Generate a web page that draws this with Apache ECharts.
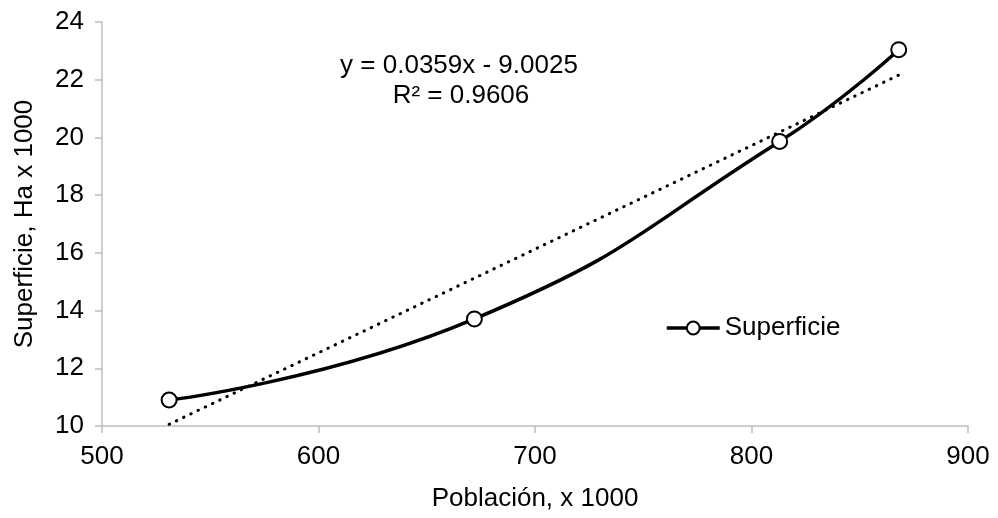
<!DOCTYPE html>
<html>
<head>
<meta charset="utf-8">
<script src="https://cdn.jsdelivr.net/npm/echarts@6/dist/echarts.min.js"></script>
<style>
    html, body { margin: 0; padding: 0; background: #fff; }
    #chart { width: 998px; height: 518px; }
</style>
</head>
<body>
<div id="chart"></div>
<script>
    // valores
    var poblacion = [531, 672, 813, 868];
    var superficie = [10.90, 13.71, 19.86, 23.04];
    // extremos de la linea de tendencia
    var tendenciaX = [531, 868];
    var tendenciaY = [10.06, 22.16];
    var ecuacion = ['y = 0.0359x - 9.0025', 'R² = 0.9606'];

    var font = 'Liberation Sans, Arial, sans-serif';
    var fontSize = 26;
    var axisGray = '#bfbfbf';

    var chart = echarts.init(document.getElementById('chart'));
    var option = {
        animation: false,
        grid: {
            left: 102,
            right: 30,
            top: 22,
            bottom: 92
        },
        legend: {
            data: ['Superficie'],
            left: 660,
            top: 310,
            itemWidth: 53,
            itemHeight: 16,
            itemGap: 6,
            lineStyle: { width: 3.5, color: '#000' },
            itemStyle: { color: '#fff', borderColor: '#000', borderWidth: 2 },
            textStyle: {
                color: '#000',
                fontFamily: font,
                fontSize: fontSize
            }
        },
        xAxis: {
            type: 'value',
            min: 500,
            max: 900,
            interval: 100,
            name: 'Población, x 1000',
            nameLocation: 'middle',
            nameGap: 60,
            nameTextStyle: { color: '#000', fontFamily: font, fontSize: fontSize },
            axisLine: { show: true, lineStyle: { color: axisGray, width: 1.5 } },
            axisTick: { show: true, length: 7, lineStyle: { color: axisGray, width: 1.5 } },
            axisLabel: { color: '#000', fontFamily: font, fontSize: fontSize, margin: 18 },
            splitLine: { show: false }
        },
        yAxis: {
            type: 'value',
            min: 10,
            max: 24,
            interval: 2,
            name: 'Superficie, Ha x 1000',
            nameLocation: 'middle',
            nameGap: 64,
            nameTextStyle: { color: '#000', fontFamily: font, fontSize: fontSize },
            axisLine: { show: true, lineStyle: { color: axisGray, width: 1.5 } },
            axisTick: { show: true, length: 7, lineStyle: { color: axisGray, width: 1.5 } },
            axisLabel: { color: '#000', fontFamily: font, fontSize: fontSize, margin: 18 },
            splitLine: { show: false }
        },
        graphic: [
            {
                type: 'text',
                x: 459,
                y: 66,
                style: {
                    text: ecuacion[0],
                    align: 'center',
                    verticalAlign: 'middle',
                    fill: '#000',
                    font: fontSize + 'px ' + font
                }
            },
            {
                type: 'text',
                x: 461,
                y: 96,
                style: {
                    text: ecuacion[1],
                    align: 'center',
                    verticalAlign: 'middle',
                    fill: '#000',
                    font: fontSize + 'px ' + font
                }
            }
        ],
        series: [
            {
                name: 'Tendencia',
                type: 'line',
                data: tendenciaX.map(function (x, i) { return [x, tendenciaY[i]]; }),
                symbol: 'none',
                silent: true,
                lineStyle: {
                    color: '#000',
                    width: 3,
                    type: [0.5, 7.5],
                    cap: 'round'
                },
                z: 1
            },
            {
                name: 'Superficie',
                type: 'line',
                data: poblacion.map(function (x, i) { return [x, superficie[i]]; }),
                smooth: true,
                symbol: 'circle',
                symbolSize: 15,
                itemStyle: {
                    color: '#fff',
                    borderColor: '#000',
                    borderWidth: 2
                },
                lineStyle: {
                    color: '#000',
                    width: 3.5
                },
                z: 2
            }
        ]
    };
    chart.setOption(option);
</script>
</body>
</html>
